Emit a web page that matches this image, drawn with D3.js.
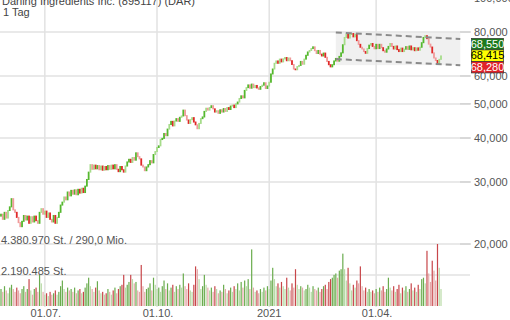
<!DOCTYPE html>
<html>
<head>
<meta charset="utf-8">
<script src="https://cdn.jsdelivr.net/npm/d3@7"></script>
<style>
  body { margin: 0; background: #fff; }
  svg { display: block; font-family: "Liberation Sans", Arial, sans-serif; }
</style>
</head>
<body>
<svg width="510" height="320"></svg>
<script>
// daily closes (USD), 27.05.2020 - 25.05.2021
const closes = [
  24.3, 23.5, 24.6, 23.7, 24.9, 25.5, 26.9, 25.0, 24.6, 23.8,
  23.0, 22.4, 23.2, 24.1, 23.4, 24.0, 22.9, 23.9, 23.1, 24.0,
  23.3, 22.9, 24.6, 25.2, 24.3, 24.8, 23.8, 24.5, 23.5, 23.1,
  24.1, 22.9, 23.8, 24.6, 25.8, 26.3, 27.2, 26.7, 28.1, 27.4,
  28.4, 27.7, 28.5, 27.6, 28.6, 27.9, 28.8, 28.0, 29.2, 30.5,
  32.0, 33.6, 32.6, 33.5, 32.7, 33.4, 32.5, 33.3, 32.4, 33.2,
  32.5, 33.4, 32.6, 33.5, 32.7, 33.6, 32.6, 32.1, 33.2, 32.5,
  32.0, 33.3, 34.2, 34.8, 34.1, 35.2, 34.6, 36.3, 35.4, 34.9,
  33.5, 33.1, 32.3, 33.1, 33.6, 34.5, 34.0, 35.9, 36.6, 37.6,
  38.0, 39.6, 39.9, 41.2, 40.6, 42.4, 43.7, 44.6, 43.3, 44.7,
  45.4, 44.6, 45.8, 46.2, 48.0, 46.3, 45.0, 44.0, 45.1, 45.7,
  44.4, 43.6, 42.5, 44.0, 45.4, 45.9, 47.6, 48.6, 48.0, 48.8,
  49.4, 48.4, 47.4, 47.8, 47.0, 48.1, 47.4, 48.5, 47.6, 48.8,
  48.2, 49.3, 49.6, 48.8, 50.0, 50.6, 51.8, 52.7, 52.0, 54.6,
  55.6, 56.6, 55.4, 56.9, 55.6, 56.4, 55.5, 55.0, 56.0, 56.5,
  57.4, 55.3, 56.2, 57.6, 60.8, 62.8, 65.2, 66.2, 65.2, 67.0,
  65.8, 67.1, 67.7, 66.3, 67.5, 66.3, 64.7, 62.8, 62.5, 63.8,
  64.3, 66.0, 64.8, 67.0, 68.7, 70.2, 70.9, 71.8, 72.6, 70.8,
  69.5, 70.9, 69.2, 68.4, 69.7, 67.8, 66.0, 64.6, 63.7, 64.6,
  66.2, 67.3, 66.1, 68.2, 69.8, 73.6, 77.2, 78.9, 76.9, 78.7,
  79.2, 77.5, 78.8, 75.6, 73.8, 72.4, 71.6, 70.4, 69.6, 71.8,
  73.4, 74.2, 72.8, 71.7, 73.8, 71.8, 73.8, 72.2, 70.8, 70.1,
  71.6, 72.8, 74.2, 72.8, 71.6, 73.0, 71.3, 70.4, 72.0, 70.4,
  71.5, 72.7, 71.4, 73.0, 71.2, 72.2, 70.8, 72.1, 71.0, 72.4,
  74.6, 77.2, 78.1, 76.6, 73.9, 72.5, 69.8, 67.5, 66.4, 64.9,
  66.9, 68.415
];
const firstOpen = 24.0;

// daily volume, million shares
const volumes = [
  1.2, 1.0, 1.4, 1.1, 0.9, 1.3, 1.5, 1.2, 1.0, 1.3,
  1.1, 0.9, 1.2, 1.4, 1.0, 1.2, 1.9, 1.1, 0.8, 1.2,
  1.3, 1.0, 2.2, 1.6, 1.0, 0.8, 0.9, 0.7, 1.0, 0.8,
  0.9, 1.1, 0.8, 1.0, 1.4, 1.8, 1.2, 1.0, 1.3, 1.1,
  1.2, 1.0, 1.3, 0.9, 1.1, 1.2, 0.9, 1.0, 1.3, 1.6,
  2.0, 1.4, 1.2, 1.0, 1.3, 1.75, 1.1, 0.9, 1.0, 0.8,
  0.9, 1.2, 1.0, 0.8, 1.1, 1.3, 0.9, 1.2, 1.4, 1.5,
  2.2, 1.3, 1.5, 1.7, 2.2, 1.9, 1.6, 1.7, 1.1, 1.0,
  2.9, 1.4, 1.0, 1.2, 1.3, 1.6, 1.1, 2.0, 1.5, 1.2,
  1.3, 1.0, 1.4, 1.8, 1.2, 1.6, 1.1, 1.3, 1.5, 1.0,
  1.4, 1.2, 1.5, 1.3, 2.3, 1.4, 1.2, 1.6, 1.1, 1.0,
  1.5, 2.8, 2.6, 1.9, 1.2, 1.4, 2.2, 1.5, 1.3, 1.1,
  1.3, 1.0, 1.4, 1.2, 0.9, 1.1, 1.0, 1.5, 1.2, 0.9,
  1.1, 1.3, 1.0, 1.4, 1.2, 1.6, 1.1, 1.7, 1.3, 1.8,
  1.4, 1.9, 1.2, 4.0, 1.3, 1.0, 1.1, 0.9, 1.2, 1.0,
  1.3, 1.1, 1.4, 1.2, 1.8, 2.7, 1.9, 1.4, 1.6, 1.3,
  1.7, 1.4, 1.2, 2.0, 1.3, 1.1, 1.6, 1.3, 2.6, 1.5,
  1.2, 1.4, 1.3, 1.1, 1.2, 1.5, 1.3, 1.0, 1.4, 1.2,
  1.1, 1.3, 1.0, 1.2, 1.4, 1.5, 1.2, 1.7, 1.9, 2.0,
  2.2, 2.3, 2.0, 2.5, 2.6, 3.7, 2.6, 1.8, 2.7, 1.6,
  1.1, 1.5, 1.3, 1.8, 1.6, 2.8, 1.4, 1.1, 1.3, 1.0,
  1.2, 1.0, 1.1, 0.9, 1.2, 1.0, 1.3, 1.1, 1.4, 1.0,
  1.2, 2.0, 1.3, 1.1, 1.4, 1.0, 1.2, 1.5, 0.9, 1.3,
  1.1, 1.4, 1.0, 1.2, 1.6, 1.1, 1.3, 1.0, 1.5, 1.2,
  1.9, 2.0, 1.6, 3.9, 2.3, 1.7, 3.2, 2.5, 1.8, 4.38097,
  2.7, 1.2
];

const startDate = "2020-05-27";
const holidays = ["2020-07-03", "2020-09-07", "2020-11-26", "2020-12-25",
  "2021-01-01", "2021-01-18", "2021-02-15", "2021-04-02"];

const priceTicks = [20, 30, 40, 50, 60, 80, 100];
const tickDates = ["2020-07-01", "2020-10-01", "2021-01-04", "2021-04-01"];
const tickLabels = ["01.07.", "01.10.", "2021", "01.04."];

// trend channel: [day index, price]
const channelTop = [[191, 79.8], [262, 76.4]];
const channelBottom = [[191, 67.0], [262, 64.4]];

const quoteValues = [68.55, 68.415, 68.28];
const quoteColors = ["#1d7a1d", "#ffff00", "#e0222a"];
const quoteText = ["#fff", "#000", "#fff"];

const title = "Darling Ingredients Inc. (895117) (DAR)";
const period = "1 Tag";
const turnover = "290,0 Mio.";

// trading days
const fmtDay = d3.timeFormat("%Y-%m-%d");
const days = [];
let d = d3.timeParse("%Y-%m-%d")(startDate);
while (days.length < closes.length) {
  const key = fmtDay(d);
  if (d.getDay() !== 0 && d.getDay() !== 6 && !holidays.includes(key)) days.push(key);
  d = d3.timeDay.offset(d, 1);
}

const de = d3.formatLocale({ decimal: ",", thousands: ".", grouping: [3], currency: ["", " €"] });
const fmtPrice = de.format(",.3f");
const fmtVol = de.format(",d");

const bars = closes.map((c, i) => ({
  i,
  open: i === 0 ? firstOpen : closes[i - 1],
  close: c,
  vol: volumes[i],
  up: c >= (i === 0 ? firstOpen : closes[i - 1]),
  strong: i === 0 || volumes[i] >= volumes[i - 1]
}));

const svg = d3.select("svg");

const x = d3.scaleLinear().domain([0, closes.length - 1]).range([1, 441]);
const y = d3.scaleLog().domain([20, 80]).range([244, 32]);
const maxVol = d3.max(volumes);
const yVol = d3.scaleLinear().domain([0, maxVol]).range([306, 244]);

const gridColor = "#e2e2e2";
const labelColor = "#555";

// vertical grid
svg.append("g")
  .selectAll("line")
  .data(tickDates)
  .join("line")
  .attr("x1", (t) => x(days.indexOf(t)))
  .attr("x2", (t) => x(days.indexOf(t)))
  .attr("y1", 0)
  .attr("y2", 307)
  .attr("stroke", gridColor)
  .attr("stroke-width", 1.5);

// horizontal grid (price + volume)
const hLines = priceTicks.map((p) => y(p)).concat([yVol(maxVol / 2)]);
const hg = svg.append("g");
hg.selectAll("line.grid")
  .data(hLines)
  .join("line")
  .attr("class", "grid")
  .attr("x1", 0)
  .attr("x2", 470)
  .attr("y1", (v) => v)
  .attr("y2", (v) => v)
  .attr("stroke", gridColor)
  .attr("stroke-width", 1.5);
hg.selectAll("line.tick")
  .data(priceTicks.map((p) => y(p)))
  .join("line")
  .attr("class", "tick")
  .attr("x1", 460)
  .attr("x2", 471)
  .attr("y1", (v) => v)
  .attr("y2", (v) => v)
  .attr("stroke", "#c8c8c8")
  .attr("stroke-width", 1);

// channel background
const chTop = channelTop.map(([i, p]) => [x(i), y(p)]);
const chBot = channelBottom.map(([i, p]) => [x(i), y(p)]);
svg.append("rect")
  .attr("x", chTop[0][0])
  .attr("y", Math.min(chTop[0][1], chTop[1][1]))
  .attr("width", chTop[1][0] - chTop[0][0])
  .attr("height", Math.max(chBot[0][1], chBot[1][1]) - Math.min(chTop[0][1], chTop[1][1]))
  .attr("fill", "#e6e6e6")
  .attr("opacity", 0.6);

// candles
const candleColor = (b) => b.up ? (b.strong ? "#55b82e" : "#a6dc8a") : (b.strong ? "#e02828" : "#f09a9a");
svg.append("g")
  .selectAll("rect")
  .data(bars)
  .join("rect")
  .attr("x", (b) => x(b.i) - 0.9)
  .attr("width", 1.8)
  .attr("y", (b) => Math.min(y(b.open), y(b.close)) - 0.5)
  .attr("height", (b) => Math.max(1.5, Math.abs(y(b.open) - y(b.close)) + 1))
  .attr("fill", candleColor);

// channel lines
const line = d3.line();
[chTop, chBot].forEach((pts) => {
  svg.append("path")
    .attr("d", line(pts))
    .attr("fill", "none")
    .attr("stroke", "#8a8a8a")
    .attr("stroke-width", 2)
    .attr("stroke-dasharray", "6,4");
});

// volume bars
const volColor = (b) => b.up ? (b.strong ? "#6aac4e" : "#b9dba8") : (b.strong ? "#c8464a" : "#e4aaaa");
svg.append("g")
  .selectAll("rect")
  .data(bars)
  .join("rect")
  .attr("x", (b) => x(b.i) - 0.6)
  .attr("width", 1.2)
  .attr("y", (b) => yVol(b.vol))
  .attr("height", (b) => yVol(0) - yVol(b.vol))
  .attr("fill", volColor);

// price axis labels
svg.append("g")
  .selectAll("text")
  .data(priceTicks)
  .join("text")
  .attr("x", 474)
  .attr("y", (p) => y(p) + 4)
  .attr("font-size", 11)
  .attr("fill", labelColor)
  .text((p) => fmtPrice(p));

// date labels
svg.append("g")
  .selectAll("text")
  .data(tickDates)
  .join("text")
  .attr("x", (t, i) => x(days.indexOf(t)) + (tickLabels[i].endsWith(".") ? 1 : 0))
  .attr("y", 317)
  .attr("text-anchor", "middle")
  .attr("font-size", 11)
  .attr("fill", labelColor)
  .text((t, i) => tickLabels[i]);

// volume labels
svg.append("text")
  .attr("x", 1)
  .attr("y", yVol(maxVol) - 0.5)
  .attr("font-size", 11)
  .attr("fill", labelColor)
  .text(`${fmtVol(Math.round(maxVol * 1e6))} St. / ${turnover}`);
svg.append("text")
  .attr("x", 1)
  .attr("y", yVol(maxVol / 2) - 0.5)
  .attr("font-size", 11)
  .attr("fill", labelColor)
  .text(`${fmtVol(Math.round(maxVol * 1e6 / 2))} St.`);

// title
svg.append("text")
  .attr("x", 2)
  .attr("y", 5)
  .attr("font-size", 11)
  .attr("fill", "#444")
  .text(title);
svg.append("text")
  .attr("x", 3)
  .attr("y", 16)
  .attr("font-size", 11)
  .attr("fill", "#444")
  .text(period);

// quote boxes
const qy = y(quoteValues[1]) - 17.5;
const qg = svg.append("g");
qg.selectAll("rect")
  .data(quoteValues)
  .join("rect")
  .attr("x", 471.5)
  .attr("y", (v, i) => qy + i * 11.5)
  .attr("width", 32)
  .attr("height", 11.5)
  .attr("fill", (v, i) => quoteColors[i])
  .attr("stroke", "#333")
  .attr("stroke-width", 0.7);
qg.selectAll("text")
  .data(quoteValues)
  .join("text")
  .attr("x", 487.5)
  .attr("y", (v, i) => qy + i * 11.5 + 9.5)
  .attr("text-anchor", "middle")
  .attr("font-size", 11)
  .attr("fill", (v, i) => quoteText[i])
  .text((v) => fmtPrice(v));
</script>
</body>
</html>
